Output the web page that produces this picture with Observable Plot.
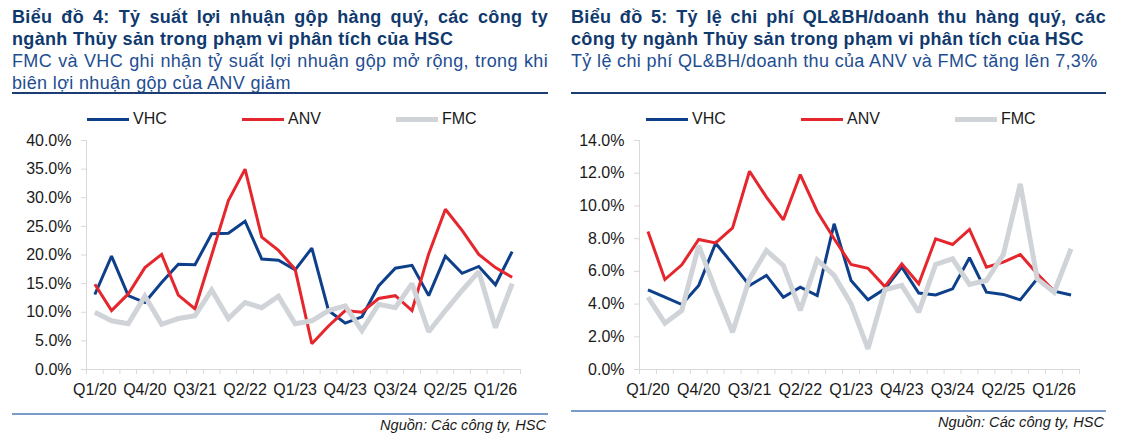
<!DOCTYPE html>
<html>
<head>
<meta charset="utf-8">
<script src="https://cdn.jsdelivr.net/npm/d3@7"></script>
<script src="https://cdn.jsdelivr.net/npm/@observablehq/plot@0.6"></script>
<style>
  html, body { margin: 0; padding: 0; background: #fff; }
  body { width: 1129px; height: 437px; position: relative; overflow: hidden;
         font-family: "Liberation Sans", Arial, sans-serif; }
  .abs { position: absolute; }
  .title { font-weight: bold; font-size: 18px; letter-spacing: 0.33px; line-height: 22px; color: #10396e; white-space: nowrap; }
  .sub { font-size: 18px; letter-spacing: 0.35px; line-height: 22px; color: #1e4e91; white-space: nowrap; }
  .just { text-align: justify; text-align-last: justify; white-space: normal; }
  .rule-top { height: 2px; background: #1b3d74; }
  .rule-bot { height: 2px; background: #7b9cc6; }
  .src { font-style: italic; font-size: 14.6px; color: #1a1a1a; text-align: right; white-space: nowrap; }
  .leg { font-size: 16px; color: #1a1a1a; line-height: 18px; white-space: nowrap; }
  .leg span.sw { position: absolute; top: 8px; height: 3px; width: 42px; }
  .leg span.tx { position: absolute; left: 46px; top: 0; }
</style>
</head>
<body>
<script>
// ---------- DATA ----------
const quarters = ["Q1/20","Q2/20","Q3/20","Q4/20","Q1/21","Q2/21","Q3/21","Q4/21",
  "Q1/22","Q2/22","Q3/22","Q4/22","Q1/23","Q2/23","Q3/23","Q4/23",
  "Q1/24","Q2/24","Q3/24","Q4/24","Q1/25","Q2/25","Q3/25","Q4/25","Q1/26","Q2/26"];
const seriesNames = ["VHC", "ANV", "FMC"];

// Chart 4: gross margin (%)
const vhcGross = [13.1,19.8,12.9,11.7,15.2,18.4,18.3,23.7,23.8,25.9,19.3,19.1,17.4,21.2,10.3,8.1,9.2,14.6,17.7,18.2,12.9,19.8,16.8,18.0,14.8,20.6];
const anvGross = [14.9,10.3,13.2,17.8,20.1,13.0,10.6,20.0,29.5,35.0,23.1,20.8,17.5,4.5,7.6,10.3,10.0,12.4,12.9,10.3,20.2,28.0,24.3,20.1,17.8,16.1];
const fmcGross = [10.0,8.5,8.0,12.8,7.9,8.9,9.4,13.9,8.9,11.7,10.8,12.8,8.0,8.5,10.3,11.1,6.8,11.4,10.8,15.0,6.6,10.3,13.8,17.1,7.3,15.0];

// Chart 5: SG&A / revenue (%)
const vhcSga = [4.87,4.42,3.97,5.14,7.72,6.46,5.14,5.75,4.42,5.03,4.52,8.91,5.44,4.26,4.93,6.26,4.67,4.56,4.93,6.83,4.73,4.59,4.26,5.54,4.79,4.56];
const anvSga = [8.44,5.50,6.40,7.95,7.74,8.66,12.12,10.54,9.15,11.92,9.66,7.99,6.42,6.19,5.07,6.46,5.24,7.99,7.64,8.56,6.26,6.56,7.03,5.85,4.79,7.30];
const fmcSga = [4.42,2.83,3.61,7.58,4.83,2.28,5.54,7.27,6.36,3.61,6.70,5.75,4.01,1.26,4.87,5.14,3.51,6.42,6.77,5.20,5.44,7.03,11.35,5.54,4.73,7.38];

const grossTicks = [0,5,10,15,20,25,30,35,40];
const sgaTicks = [0,2,4,6,8,10,12,14];
const xLabelIdx = [0,3,6,9,12,15,18,21,24];

// text
const title4 = ["Biểu đồ 4: Tỷ suất lợi nhuận gộp hàng quý, các công ty", "ngành Thủy sản trong phạm vi phân tích của HSC"];
const sub4 = ["FMC và VHC ghi nhận tỷ suất lợi nhuận gộp mở rộng, trong khi", "biên lợi nhuận gộp của ANV giảm"];
const title5 = ["Biểu đồ 5: Tỷ lệ chi phí QL&BH/doanh thu hàng quý, các", "công ty ngành Thủy sản trong phạm vi phân tích của HSC"];
const sub5 = ["Tỷ lệ chi phí QL&BH/doanh thu của ANV và FMC tăng lên 7,3%"];
const sourceText = "Nguồn: Các công ty, HSC";

// ---------- STYLE ----------
const colors = {VHC: "#0d3f8a", ANV: "#e5262d", FMC: "#d0d4d9"};
const widths = {VHC: 3, ANV: 3, FMC: 5};
const axisGray = "#d9d9d9";
const font = "'Liberation Sans', Arial, sans-serif";

function el(tag, cls, css, text) {
  const e = document.createElement(tag);
  if (cls) e.className = cls;
  Object.assign(e.style, css);
  if (text !== undefined) e.textContent = text;
  document.body.appendChild(e);
  return e;
}

function makeChart(valsList, ticks, opts) {
  const yMax = ticks[ticks.length - 1];
  const marks = [
    Plot.ruleX([-0.5], {stroke: axisGray}),
    Plot.ruleY([0], {stroke: axisGray}),
    Plot.axisY({ticks, tickFormat: d => d.toFixed(1) + "%", tickSize: 5, tickPadding: 10,
      stroke: axisGray, fill: "#1a1a1a", label: null}),
    Plot.axisX({ticks: d3.range(-0.5, 26, 1), tickFormat: () => "", tickSize: 5,
      stroke: axisGray, label: null}),
    Plot.axisX({ticks: xLabelIdx, tickFormat: i => quarters[i], tickSize: 0, tickPadding: 14,
      fill: "#1a1a1a", label: null})
  ];
  seriesNames.forEach((name, k) => {
    const rows = valsList[k].map((v, i) => ({i, v}));
    marks.push(Plot.line(rows, {x: "i", y: "v", stroke: colors[name], strokeWidth: widths[name],
      strokeLinejoin: "miter", strokeMiterlimit: 2, strokeLinecap: "butt"}));
  });
  return Plot.plot({
    width: 560, height: 270,
    marginLeft: opts.marginLeft, marginRight: opts.marginRight, marginTop: 10, marginBottom: 31,
    x: {type: "linear", domain: [-0.5, 25.5]},
    y: {domain: [0, yMax]},
    style: {fontFamily: font, fontSize: "16px", color: "#1a1a1a", background: "transparent", overflow: "visible"},
    marks
  });
}

function panel(x0, w, titles, subs, vals, ticks, chartOpts, legX, botY, srcY) {
  titles.forEach((t, j) => {
    el("div", "abs title" + (j === 0 ? " just" : ""), {left: x0 + "px", top: (6 + 22 * j) + "px", width: w + "px"}, t);
  });
  subs.forEach((t, j) => {
    const just = (j === 0 && subs.length > 1);
    el("div", "abs sub" + (just ? " just" : ""), {left: x0 + "px", top: (50 + 22 * j) + "px", width: w + "px"}, t);
  });
  el("div", "abs rule-top", {left: x0 + "px", top: "92px", width: w + "px"});
  seriesNames.forEach((name, k) => {
    const d = el("div", "abs leg", {left: legX[k] + "px", top: "110px", width: "100px", height: "18px"});
    const sw = document.createElement("span");
    sw.className = "sw";
    sw.style.background = colors[name];
    sw.style.height = (name === "FMC" ? 5 : 3) + "px";
    sw.style.top = (name === "FMC" ? 7 : 8) + "px";
    d.appendChild(sw);
    const tx = document.createElement("span");
    tx.className = "tx";
    tx.textContent = name;
    d.appendChild(tx);
  });
  const svg = makeChart(vals, ticks, chartOpts);
  const holder = el("div", "abs", {left: (chartOpts.left) + "px", top: "130px"});
  holder.appendChild(svg);
  el("div", "abs rule-bot", {left: x0 + "px", top: botY + "px", width: w + "px"});
  el("div", "abs src", {left: x0 + "px", top: srcY + "px", width: (w - 2) + "px"}, sourceText);
}

panel(12, 536, title4, sub4, [vhcGross, anvGross, fmcGross], grossTicks,
  {left: 0, marginLeft: 86, marginRight: 40}, [87, 242, 396], 413, 417);
panel(571, 535, title5, sub5, [vhcSga, anvSga, fmcSga], sgaTicks,
  {left: 565, marginLeft: 74, marginRight: 46}, [646, 801, 955], 410, 414);
</script>
</body>
</html>
